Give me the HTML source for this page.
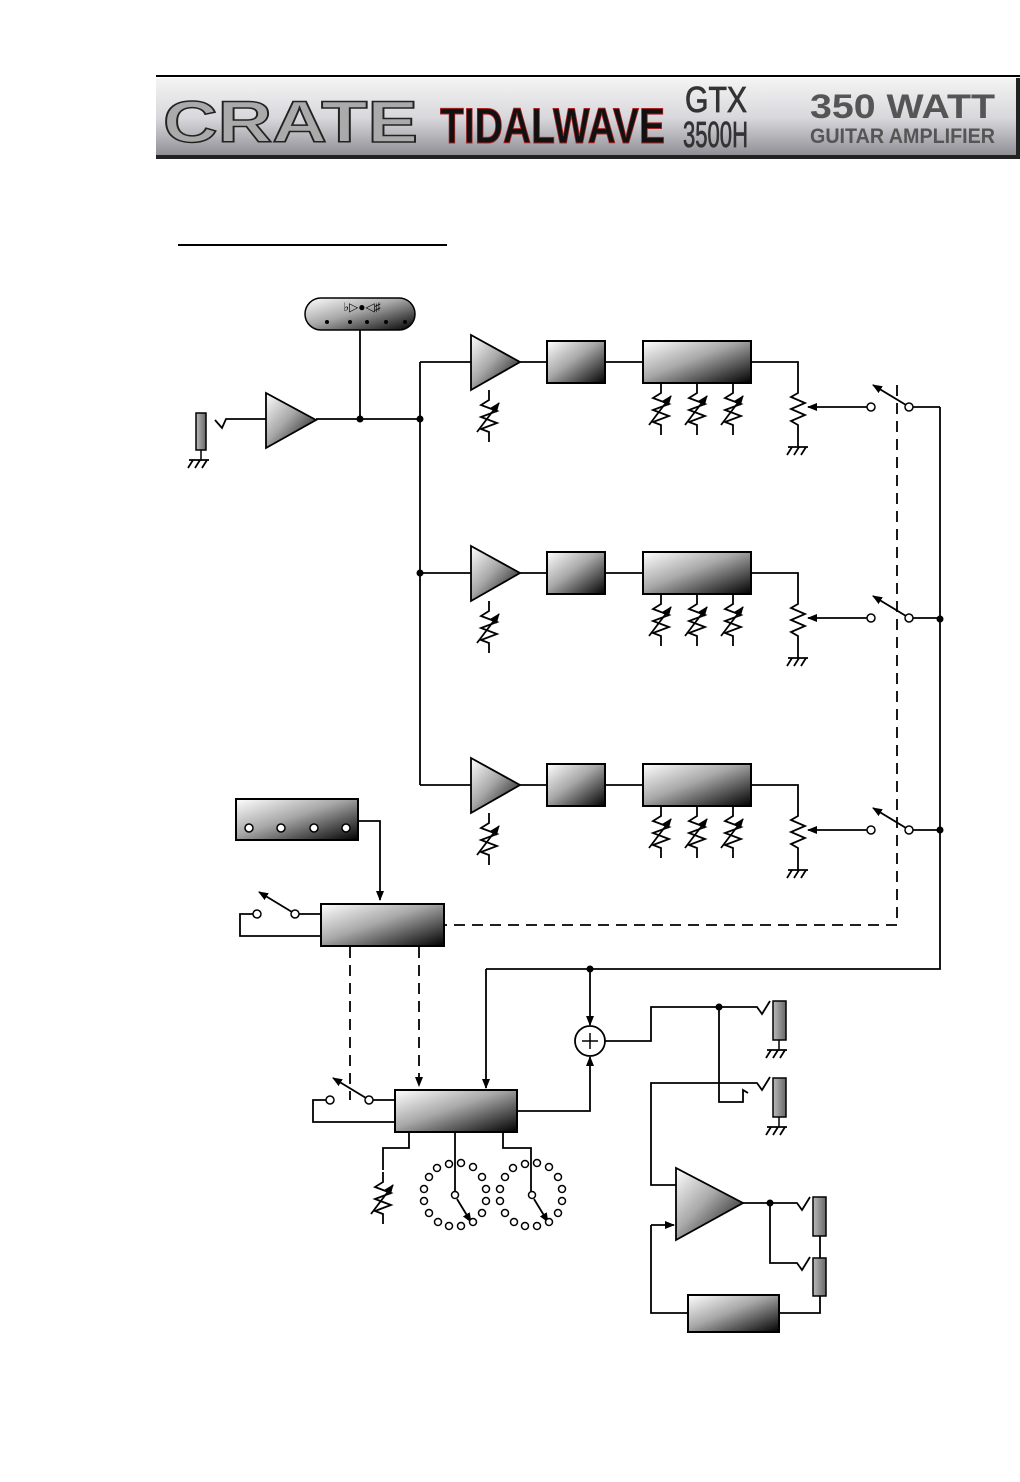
<!DOCTYPE html>
<html><head><meta charset="utf-8"><style>
html,body{margin:0;padding:0;background:#fff;}
svg{display:block;}
</style></head><body>
<svg width="1020" height="1482" viewBox="0 0 1020 1482" xmlns="http://www.w3.org/2000/svg" font-family="Liberation Sans, sans-serif">
<defs>
<linearGradient id="g" x1="0" y1="0" x2="1" y2="1">
<stop offset="0" stop-color="#fff"/><stop offset="0.45" stop-color="#a8a8a8"/><stop offset="1" stop-color="#000"/></linearGradient>
<linearGradient id="hdr" x1="0" y1="0" x2="0" y2="1">
<stop offset="0" stop-color="#f4f4f4"/><stop offset="0.5" stop-color="#d8d8dc"/><stop offset="1" stop-color="#8a8a90"/></linearGradient>
<linearGradient id="jk" x1="0" y1="0" x2="1" y2="0">
<stop offset="0" stop-color="#bbb"/><stop offset="1" stop-color="#666"/></linearGradient>
<marker id="ah" markerWidth="10" markerHeight="10" refX="9" refY="5" orient="auto" markerUnits="userSpaceOnUse">
<path d="M0,1 L10,5 L0,9 Z" fill="#000"/></marker>
<g id="vres" fill="none" stroke="#000" stroke-width="1.8">
<path d="M0,0 V10 L-8,15 L8,21 L-8,27 L8,33 L-8,39 L0,42 V52"/>
<line x1="-12" y1="42" x2="10" y2="13" marker-end="url(#ah)"/>
</g>
<g id="gnd" fill="none" stroke="#000" stroke-width="1.8">
<line x1="-10" y1="0" x2="10" y2="0"/><line x1="-6" y1="0" x2="-11" y2="8"/><line x1="1" y1="0" x2="-4" y2="8"/><line x1="8" y1="0" x2="3" y2="8"/>
</g>
<g id="chan">
<g fill="none" stroke="#000" stroke-width="1.8">
<path d="M420,0 H471 M520,0 H547 M605,0 H643"/>
<path d="M751,0 H798 V31 L791,35 L805,41 L791,47 L805,53 L791,59 L798,63 V85"/>
<path d="M913,45 H940"/>
<line x1="870" y1="45" x2="808" y2="45" marker-end="url(#ah)"/>
<line x1="906" y1="43" x2="873" y2="23" marker-end="url(#ah)"/>
</g>
<polygon points="471,-27 471,28 520,0" fill="url(#g)" stroke="#000" stroke-width="1.8"/>
<rect x="547" y="-21" width="58" height="42" fill="url(#g)" stroke="#000" stroke-width="2"/>
<rect x="643" y="-21" width="108" height="42" fill="url(#g)" stroke="#000" stroke-width="2"/>
<circle cx="871" cy="45" r="4" fill="#fff" stroke="#000" stroke-width="1.5"/>
<circle cx="909" cy="45" r="4" fill="#fff" stroke="#000" stroke-width="1.5"/>
<use href="#vres" x="489" y="28"/>
<use href="#vres" x="661" y="21"/>
<use href="#vres" x="697" y="21"/>
<use href="#vres" x="733" y="21"/>
<use href="#gnd" x="798" y="85"/>
</g>
</defs>

<!-- header -->
<line x1="156" y1="76" x2="1020" y2="76" stroke="#000" stroke-width="2"/>
<rect x="156" y="78" width="864" height="80" fill="url(#hdr)"/>
<rect x="156" y="155" width="864" height="4" fill="#222"/>
<rect x="1016" y="78" width="4" height="80" fill="#222"/>
<text x="163" y="142" font-size="58" font-weight="bold" fill="#aaa" stroke="#222" stroke-width="1.5" textLength="255" lengthAdjust="spacingAndGlyphs">CRATE</text>
<text x="440" y="143" font-size="50" font-weight="bold" fill="#111" stroke="#a22" stroke-width="1" textLength="225" lengthAdjust="spacingAndGlyphs">TIDALWAVE</text>
<text x="685" y="112" font-size="36" fill="#333" stroke="#333" stroke-width="0.8" textLength="62" lengthAdjust="spacingAndGlyphs">GTX</text>
<text x="683" y="147" font-size="36" fill="#333" stroke="#333" stroke-width="0.8" textLength="65" lengthAdjust="spacingAndGlyphs">3500H</text>
<text x="810" y="118" font-size="34" font-weight="bold" fill="#555" textLength="185" lengthAdjust="spacingAndGlyphs">350 WATT</text>
<text x="810" y="143" font-size="21" font-weight="bold" fill="#555" textLength="185" lengthAdjust="spacingAndGlyphs">GUITAR AMPLIFIER</text>
<line x1="178" y1="245" x2="447" y2="245" stroke="#000" stroke-width="2"/>

<!-- tuner -->
<rect x="305" y="298" width="110" height="32" rx="16" fill="url(#g)" stroke="#000" stroke-width="1.5"/>
<text x="362" y="311" font-size="12" text-anchor="middle" fill="#000">♭▷●◁♯</text>
<g fill="#000"><circle cx="327" cy="322" r="2"/><circle cx="350" cy="322" r="2"/><circle cx="367" cy="322" r="2"/><circle cx="386" cy="322" r="2"/><circle cx="405" cy="322" r="2"/></g>

<g fill="none" stroke="#000" stroke-width="1.8">
<path d="M360,330 V419 M316,419 H420 M420,362 V785"/>
<path d="M215,420 L222,428 L226,419 H266"/>
<path d="M940,407 V969 H486"/>
<path d="M358,821 H380 V900" marker-end="url(#ah)"/>
<line x1="486" y1="969" x2="486" y2="1088" marker-end="url(#ah)"/>
<line x1="590" y1="969" x2="590" y2="1025" marker-end="url(#ah)"/>
<path d="M517,1111 H590 V1057" marker-end="url(#ah)"/>
<path d="M299,914 H321 M257,914 H240 V936 H321"/>
<line x1="292" y1="912" x2="259" y2="892" marker-end="url(#ah)"/>
<path d="M373,1100 H395 M330,1100 H313 V1122 H395"/>
<line x1="366" y1="1098" x2="333" y2="1078" marker-end="url(#ah)"/>
<path d="M409,1132 V1148 H383 V1170"/>
<path d="M455,1132 V1191"/>
<path d="M503,1132 V1148 H531 V1191"/>
<line x1="457" y1="1199" x2="471" y2="1222" marker-end="url(#ah)"/>
<line x1="534" y1="1199" x2="548" y2="1222" marker-end="url(#ah)"/>
<path d="M604,1041 H651 V1007 H757 L762,1014 L770,1001"/>
<path d="M719,1007 V1102 H743 V1090 L748,1093"/>
<path d="M676,1185 H651 V1083 H757 L762,1090 L770,1077"/>
<path d="M743,1203 H797 L802,1210 L810,1197"/>
<path d="M770,1203 V1263 H797 L802,1270 L810,1257"/>
<path d="M820,1236 V1258 M820,1296 V1313 H779 M688,1313 H651 V1225"/>
<line x1="651" y1="1225" x2="674" y2="1225" marker-end="url(#ah)"/>
</g>
<use href="#vres" x="383" y="1172"/>

<!-- dashed -->
<g fill="none" stroke="#000" stroke-width="1.8" stroke-dasharray="11,7">
<path d="M897,385 V925 H445"/>
<path d="M350,947 V1100"/>
<line x1="419" y1="947" x2="419" y2="1086" marker-end="url(#ah)"/>
</g>

<!-- input jack -->
<rect x="196" y="413" width="10" height="37" fill="url(#jk)" stroke="#000" stroke-width="1.5"/>
<line x1="201" y1="450" x2="201" y2="460" stroke="#000" stroke-width="1.5"/>
<use href="#gnd" x="199" y="460"/>
<polygon points="266,393 266,448 316,420" fill="url(#g)" stroke="#000" stroke-width="1.8"/>
<g fill="#000"><circle cx="360" cy="419" r="3.5"/><circle cx="420" cy="419" r="3.5"/><circle cx="420" cy="573" r="3.5"/><circle cx="940" cy="619" r="3.5"/><circle cx="940" cy="830" r="3.5"/><circle cx="590" cy="969" r="3.5"/><circle cx="719" cy="1007" r="3.5"/><circle cx="770" cy="1203" r="3.5"/></g>

<use href="#chan" x="0" y="362"/>
<use href="#chan" x="0" y="573"/>
<use href="#chan" x="0" y="785"/>

<!-- footswitch etc -->
<rect x="236" y="799" width="122" height="41" fill="url(#g)" stroke="#000" stroke-width="2"/>
<g fill="#fff" stroke="#000" stroke-width="1.5">
<circle cx="249" cy="828" r="4"/><circle cx="281" cy="828" r="4"/><circle cx="314" cy="828" r="4"/><circle cx="346" cy="828" r="4"/>
<circle cx="257" cy="914" r="4"/><circle cx="295" cy="914" r="4"/>
<circle cx="330" cy="1100" r="4"/><circle cx="369" cy="1100" r="4"/>
</g>
<rect x="321" y="904" width="123" height="42" fill="url(#g)" stroke="#000" stroke-width="2"/>
<rect x="395" y="1090" width="122" height="42" fill="url(#g)" stroke="#000" stroke-width="2"/>

<!-- rotary switches -->
<g fill="#fff" stroke="#000" stroke-width="1.5">
<circle cx="455" cy="1195" r="3.5"/><circle cx="532" cy="1195" r="3.5"/>
<circle cx="449" cy="1164" r="3.5"/><circle cx="461" cy="1163" r="3.5"/><circle cx="473" cy="1167" r="3.5"/><circle cx="482" cy="1177" r="3.5"/><circle cx="486" cy="1189" r="3.5"/><circle cx="486" cy="1201" r="3.5"/><circle cx="482" cy="1213" r="3.5"/><circle cx="473" cy="1222" r="3.5"/><circle cx="461" cy="1226" r="3.5"/><circle cx="449" cy="1226" r="3.5"/><circle cx="438" cy="1222" r="3.5"/><circle cx="429" cy="1213" r="3.5"/><circle cx="424" cy="1201" r="3.5"/><circle cx="424" cy="1189" r="3.5"/><circle cx="429" cy="1177" r="3.5"/><circle cx="437" cy="1168" r="3.5"/>
<circle cx="525" cy="1164" r="3.5"/><circle cx="537" cy="1163" r="3.5"/><circle cx="549" cy="1167" r="3.5"/><circle cx="558" cy="1177" r="3.5"/><circle cx="562" cy="1189" r="3.5"/><circle cx="562" cy="1201" r="3.5"/><circle cx="558" cy="1213" r="3.5"/><circle cx="549" cy="1222" r="3.5"/><circle cx="537" cy="1226" r="3.5"/><circle cx="525" cy="1226" r="3.5"/><circle cx="514" cy="1222" r="3.5"/><circle cx="505" cy="1213" r="3.5"/><circle cx="500" cy="1201" r="3.5"/><circle cx="500" cy="1189" r="3.5"/><circle cx="505" cy="1177" r="3.5"/><circle cx="513" cy="1168" r="3.5"/>
</g>

<!-- sum -->
<circle cx="590" cy="1041" r="15" fill="#fff" stroke="#000" stroke-width="1.8"/>
<path d="M582,1041 H598 M590,1033 V1049" stroke="#000" stroke-width="1.5"/>

<!-- output jacks -->
<rect x="773" y="1001" width="13" height="39" fill="url(#jk)" stroke="#000" stroke-width="1.5"/>
<line x1="779" y1="1040" x2="779" y2="1050" stroke="#000" stroke-width="1.5"/><use href="#gnd" x="777" y="1050"/>
<rect x="773" y="1078" width="13" height="39" fill="url(#jk)" stroke="#000" stroke-width="1.5"/>
<line x1="779" y1="1117" x2="779" y2="1127" stroke="#000" stroke-width="1.5"/><use href="#gnd" x="777" y="1127"/>
<polygon points="676,1168 676,1240 743,1203" fill="url(#g)" stroke="#000" stroke-width="1.8"/>
<rect x="813" y="1197" width="13" height="39" fill="url(#jk)" stroke="#000" stroke-width="1.5"/>
<rect x="813" y="1258" width="13" height="38" fill="url(#jk)" stroke="#000" stroke-width="1.5"/>
<rect x="688" y="1295" width="91" height="37" fill="url(#g)" stroke="#000" stroke-width="2"/>
</svg>
</body></html>
